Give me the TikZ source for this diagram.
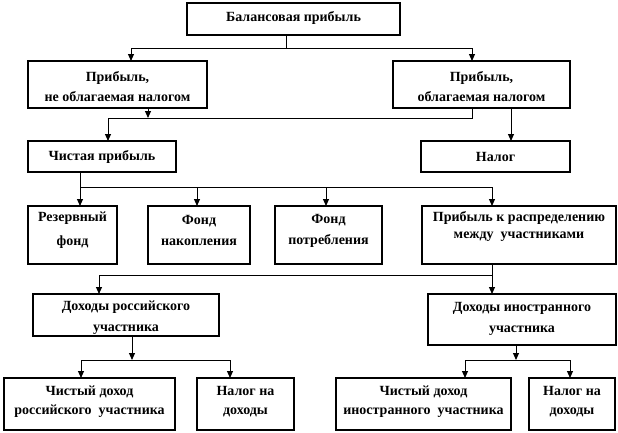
\documentclass[tikz,border=0pt]{standalone}
\usepackage{fontspec}
\setmainfont{Liberation Serif}
\usetikzlibrary{arrows.meta}
\newcommand\mkbox[5]{\node[box,minimum width={(#4-#2)*1pt},minimum height={(#5-#3)*1pt}] (#1) at (#2,#3) {};}
\begin{document}
\begin{tikzpicture}[x=1pt,y=-1pt,
  box/.style={draw,line width=1.2pt,inner sep=0pt,outer sep=0pt,anchor=north west},
  txt/.style={font=\bfseries\fontsize{14}{17}\selectfont,align=center,inner sep=0pt},
  con/.style={line width=1pt},
  arr/.style={con,-{Triangle[width=6pt,length=7pt]}}]
\useasboundingbox (0,0) rectangle (618,432);
\fill[white] (0,0) rectangle (618,432);
% boxes
\mkbox{bal}{187}{3}{400}{35}
\mkbox{nontax}{28}{61}{207}{108}
\mkbox{tax}{393}{61}{570}{108}
\mkbox{net}{28}{141}{176}{172}
\mkbox{nalog}{421}{141}{570}{172}
\mkbox{res}{28}{206}{117}{264}
\mkbox{nak}{148}{206}{250}{264}
\mkbox{potr}{275}{206}{382}{264}
\mkbox{raspr}{422}{206}{616}{264}
\mkbox{dros}{33}{294}{219}{336}
\mkbox{dinos}{428}{294}{616}{345}
\mkbox{chros}{4}{378}{175}{430}
\mkbox{nalA}{197}{378}{294}{430}
\mkbox{chin}{336}{378}{511}{430}
\mkbox{nalB}{529}{378}{615}{430}
% texts
\node[txt] (bal-t) at (293.5,18) {Балансовая прибыль};
\node[txt] (nontax-t) at (117.5,87) {Прибыль,\\[3pt]не облагаемая налогом};
\node[txt] (tax-t) at (481.5,87) {Прибыль,\\[3pt]облагаемая налогом};
\node[txt] (net-t) at (102,157) {Чистая прибыль};
\node[txt] (nalog-t) at (495.5,156.5) {Налог};
\node[txt] (res-t) at (72.5,230) {Резервный\\[7pt]фонд};
\node[txt] (nak-t) at (199,230.5) {Фонд\\[4pt]накопления};
\node[txt] (potr-t) at (328.5,230.5) {Фонд\\[4pt]потребления};
\node[txt] (raspr-t) at (519,226.5) {Прибыль к распределению\\между\ \ участниками};
\node[txt] (dros-t) at (126,318) {Доходы российского\\[4pt]участника};
\node[txt] (dinos-t) at (522,318.5) {Доходы иностранного\\[4pt]участника};
\node[txt] (chros-t) at (89.5,402) {Чистый доход\\[2pt]российского\ \ участника};
\node[txt] (nalA-t) at (245.5,402) {Налог на\\[2pt]доходы};
\node[txt] (chin-t) at (423.5,402) {Чистый доход\\[2pt]иностранного\ \ участника};
\node[txt] (nalB-t) at (572,402) {Налог на\\[2pt]доходы};
% level 1
\coordinate (j0) at (286,48);
\coordinate (j0l) at (131,48);
\coordinate (j0r) at (472,48);
\draw[con] (bal.south -| j0) -- (j0);
\draw[con] (j0l) -- (j0r);
\draw[arr] (j0l) -- (nontax.north -| j0l);
\draw[arr] (j0r) -- (tax.north -| j0r);
% level 2
\coordinate (j1a) at (148,118);
\coordinate (j1l) at (108,118);
\coordinate (j1r) at (472,118);
\coordinate (j1n) at (511,118);
\draw[arr] (nontax.south -| j1a) -- (j1a);
\draw[con] (tax.south -| j1r) -- (j1r) -- (j1l);
\draw[arr] (j1l) -- (net.north -| j1l);
\draw[arr] (tax.south -| j1n) -- (nalog.north -| j1n);
% level 3
\coordinate (j2l) at (80,187);
\coordinate (j2b) at (197,187);
\coordinate (j2c) at (326,187);
\coordinate (j2r) at (492,187);
\draw[con] (net.south -| j2l) -- (j2l) -- (j2r);
\draw[arr] (j2l) -- (res.north -| j2l);
\draw[arr] (j2b) -- (nak.north -| j2b);
\draw[arr] (j2c) -- (potr.north -| j2c);
\draw[arr] (j2r) -- (raspr.north -| j2r);
% level 4
\coordinate (j3l) at (99,275);
\coordinate (j3r) at (492,275);
\draw[con] (raspr.south -| j3r) -- (j3r) -- (j3l);
\draw[arr] (j3l) -- (dros.north -| j3l);
\draw[arr] (j3r) -- (dinos.north -| j3r);
% level 5
\coordinate (j4a) at (132,360);
\coordinate (j4l) at (81,360);
\coordinate (j4r) at (230,360);
\draw[arr] (dros.south -| j4a) -- (j4a);
\draw[con] (j4l) -- (j4r);
\draw[arr] (j4l) -- (chros.north -| j4l);
\draw[arr] (j4r) -- (nalA.north -| j4r);
\coordinate (j5a) at (516,360);
\coordinate (j5l) at (465,360);
\coordinate (j5r) at (570,360);
\draw[arr] (dinos.south -| j5a) -- (j5a);
\draw[con] (j5l) -- (j5r);
\draw[arr] (j5l) -- (chin.north -| j5l);
\draw[arr] (j5r) -- (nalB.north -| j5r);
\end{tikzpicture}
\end{document}
